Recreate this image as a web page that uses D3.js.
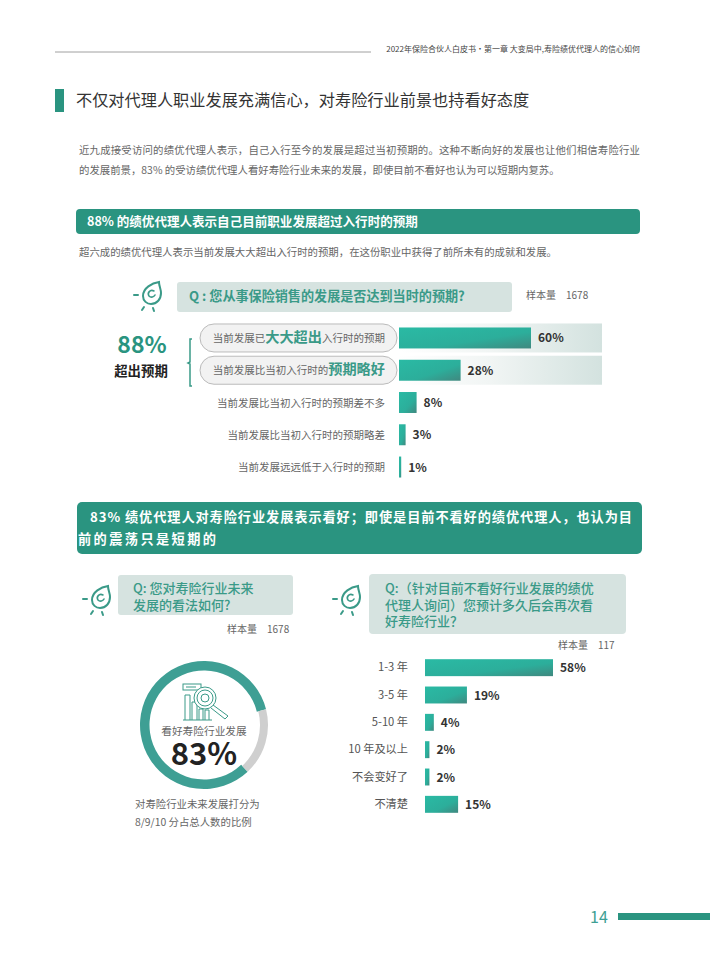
<!DOCTYPE html>
<html>
<head>
<meta charset="utf-8">
<script src="https://cdn.jsdelivr.net/npm/d3@7"></script>
<style>
  html, body { margin: 0; padding: 0; background: #fff; }
  svg { display: block; }
  text { font-family: "Noto Sans CJK SC", "Noto Sans", sans-serif; }
</style>
</head>
<body>
<div id="chart"></div>
<script>
// 预期 chart
const expectCats = ["exceed", "better", "same", "worse", "far"];
const expectVals = [60, 28, 8, 3, 1];
const expectLabels = [
  [["当前发展已", 0], ["大大超出", 1], ["入行时的预期", 0]],
  [["当前发展比当初入行时的", 0], ["预期略好", 1]],
  [["当前发展比当初入行时的预期差不多", 0]],
  [["当前发展比当初入行时的预期略差", 0]],
  [["当前发展远远低于入行时的预期", 0]]
];
// 多久后再次看好
const yearCats = ["1-3 年", "3-5 年", "5-10 年", "10 年及以上", "不会变好了", "不清楚"];
const yearVals = [58, 19, 4, 2, 2, 15];
// 行业看法
const donutVals = [83, 17];

const teal = "#2a9480";
const qTeal = "#3a9a88";
const grayText = "#666";

const svg = d3.select("#chart").append("svg").attr("width", 710).attr("height", 956);
const defs = svg.append("defs");

const barGrad = defs.append("linearGradient").attr("id", "barGrad")
  .attr("x1", "0").attr("y1", "0").attr("x2", "1").attr("y2", "1");
barGrad.append("stop").attr("offset", "0%").attr("stop-color", "#2abaa4");
barGrad.append("stop").attr("offset", "60%").attr("stop-color", "#2cae9b");
barGrad.append("stop").attr("offset", "100%").attr("stop-color", "#40887f");

const stripeGrad = defs.append("linearGradient").attr("id", "stripeGrad");
stripeGrad.append("stop").attr("offset", "0%").attr("stop-color", "#ffffff");
stripeGrad.append("stop").attr("offset", "45%").attr("stop-color", "#f1f5f4");
stripeGrad.append("stop").attr("offset", "100%").attr("stop-color", "#d3e2df");

function addText(parent, x, y, str, size, color, weight, anchor) {
  return parent.append("text").attr("x", x).attr("y", y).text(str)
    .attr("font-size", size).attr("fill", color)
    .attr("font-weight", weight || 400).attr("text-anchor", anchor || "start");
}

function bulbIcon(x, y) {
  const g = svg.append("g").attr("transform", `translate(${x},${y})`)
    .attr("fill", "none").attr("stroke", qTeal).attr("stroke-width", 2).attr("stroke-linecap", "round");
  g.append("path").attr("d", "M11 -13 C4 -12 -5 -7 -5 1 C-5 6 -1 9 3 9 C9 9 13 4 13 -2 C13 -6 11 -9 11 -13 Z");
  g.append("path").attr("d", "M6 -4 C2 -6 -1 -2 1 1 C3 3 6 2 7 0").attr("stroke-width", 1.6);
  g.append("path").attr("d", "M-14 0 L-10 0 M-4 12 L-6 15 M5 13 L6 16");
}

// 页眉
svg.append("line").attr("x1", 55).attr("x2", 371).attr("y1", 52).attr("y2", 52).attr("stroke", "#a0a0a0");
addText(svg, 640, 52, "2022年保险合伙人白皮书·第一章 大变局中,寿险绩优代理人的信心如何", 8, "#444", 400, "end");

// 标题
svg.append("rect").attr("x", 55).attr("y", 89).attr("width", 9).attr("height", 23).attr("fill", teal);
addText(svg, 76, 106, "不仅对代理人职业发展充满信心，对寿险行业前景也持看好态度", 16.2, "#333");

addText(svg, 79, 154, "近九成接受访问的绩优代理人表示，自己入行至今的发展是超过当初预期的。这种不断向好的发展也让他们相信寿险行业", 10.4, grayText)
  .attr("textLength", 561);
addText(svg, 79, 174, "的发展前景，83% 的受访绩优代理人看好寿险行业未来的发展，即使目前不看好也认为可以短期内复苏。", 10.4, grayText);

// 绿色标题条 1
svg.append("rect").attr("x", 76).attr("y", 209).attr("width", 564).attr("height", 25).attr("rx", 4).attr("fill", teal);
addText(svg, 87, 226, "88% 的绩优代理人表示自己目前职业发展超过入行时的预期", 12.55, "#fff", 700);
addText(svg, 79, 256, "超六成的绩优代理人表示当前发展大大超出入行时的预期，在这份职业中获得了前所未有的成就和发展。", 10.4, grayText);

// 问题 1
bulbIcon(148, 295);
svg.append("rect").attr("x", 177).attr("y", 282).attr("width", 335).attr("height", 30).attr("rx", 3).attr("fill", "#d6e3e0");
addText(svg, 189, 301, "Q : 您从事保险销售的发展是否达到当时的预期?", 13.1, qTeal, 700);
addText(svg, 526, 299, "样本量", 10, grayText);
addText(svg, 566, 299, "1678", 10, grayText);

addText(svg, 142, 353, "88%", 23, teal, 700, "middle");
addText(svg, 141, 376, "超出预期", 13.4, "#222", 700, "middle");
svg.append("path").attr("d", "M192 339 L190 339 L190 362 L188 363 L190 364 L190 386 L192 386")
  .attr("fill", "none").attr("stroke", qTeal).attr("stroke-width", 1.5);

const xTop = d3.scaleLinear().domain([0, 60]).range([399, 531]);
const yTop = d3.scaleBand().domain(expectCats).range([322, 483]).paddingInner(0.35).paddingOuter(0.17);

const topChart = svg.append("g");
topChart.selectAll("rect.stripe").data(expectCats.slice(0, 2)).join("rect").attr("class", "stripe")
  .attr("x", xTop(0)).attr("width", 203)
  .attr("y", (d) => yTop(d) + yTop.bandwidth() / 2 - 14.5).attr("height", 29)
  .attr("fill", "url(#stripeGrad)");
topChart.selectAll("rect.pill").data(expectCats.slice(0, 2)).join("rect").attr("class", "pill")
  .attr("x", 200).attr("width", 197)
  .attr("y", (d) => yTop(d) + yTop.bandwidth() / 2 - 14).attr("height", 28).attr("rx", 14)
  .attr("fill", "#f2f2f2").attr("stroke", "#bbb").attr("stroke-width", 1);
topChart.selectAll("rect.bar").data(expectVals).join("rect").attr("class", "bar")
  .attr("x", xTop(0)).attr("width", (d) => xTop(d) - xTop(0))
  .attr("y", (d, i) => yTop(expectCats[i])).attr("height", yTop.bandwidth())
  .attr("fill", "url(#barGrad)");
topChart.selectAll("text.val").data(expectVals).join("text").attr("class", "val")
  .attr("x", (d) => xTop(d) + 7).attr("y", (d, i) => yTop(expectCats[i]) + yTop.bandwidth() / 2 + 4.5)
  .attr("font-size", 12).attr("font-weight", 700).attr("fill", "#333").text((d) => d + "%");
topChart.selectAll("text.lab").data(expectLabels).join("text").attr("class", "lab")
  .attr("x", 385).attr("text-anchor", "end")
  .attr("y", (d, i) => yTop(expectCats[i]) + yTop.bandwidth() / 2 + 4)
  .each(function (parts) {
    d3.select(this).selectAll("tspan").data(parts).join("tspan").text((p) => p[0])
      .attr("font-size", (p) => p[1] ? 14.2 : 10.5)
      .attr("font-weight", (p) => p[1] ? 700 : 400)
      .attr("fill", (p) => p[1] ? qTeal : grayText);
  });

// 绿色标题条 2
svg.append("rect").attr("x", 77).attr("y", 502).attr("width", 565).attr("height", 52).attr("rx", 5).attr("fill", teal);
addText(svg, 90, 522, "83%  绩优代理人对寿险行业发展表示看好；即使是目前不看好的绩优代理人，也认为目", 13.2, "#fff", 700)
  .attr("textLength", 542);
addText(svg, 78, 544, "前的震荡只是短期的", 13.2, "#fff", 700)
  .attr("textLength", 138);

// 问题 2
bulbIcon(97, 599);
svg.append("rect").attr("x", 118).attr("y", 575).attr("width", 175).attr("height", 40).attr("rx", 3).attr("fill", "#d6e3e0");
addText(svg, 133, 593, "Q: 您对寿险行业未来", 13, qTeal, 500);
addText(svg, 133, 610, "发展的看法如何?", 13, qTeal, 500);
addText(svg, 227, 633, "样本量", 10, grayText);
addText(svg, 267, 633, "1678", 10, grayText);

// 环形图
const pie = d3.pie().sort(null).startAngle(137 * Math.PI / 180).endAngle((137 + 360) * Math.PI / 180);
const arc = d3.arc();
const donut = svg.append("g").attr("transform", "translate(204,725)");
donut.selectAll("path").data(pie(donutVals)).join("path")
  .attr("d", (d, i) => arc({ ...d, innerRadius: i ? 56 : 54.5, outerRadius: 64 }))
  .attr("fill", (d, i) => i ? "#cfcfcf" : "#3e9f94");

const mag = svg.append("g").attr("transform", "translate(183,684)")
  .attr("fill", "none").attr("stroke", qTeal).attr("stroke-width", 1);
mag.append("rect").attr("x", 0).attr("y", 0).attr("width", 18).attr("height", 6);
mag.append("path").attr("d", "M3 3 L13 3");
mag.append("path").attr("d", "M2 36 L2 11 L7 11 L7 36 M9 36 L9 18 L14 18 L14 36 M16 36 L16 25 L20 25 L20 36 M22 36 L22 26 L26 26 L26 36 M0 36 L29 36");
mag.append("circle").attr("cx", 22).attr("cy", 14).attr("r", 11).attr("fill", "#fff");
mag.append("circle").attr("cx", 22).attr("cy", 14).attr("r", 8);
mag.append("circle").attr("cx", 22).attr("cy", 14).attr("r", 4);
mag.append("path").attr("d", "M30 21 L45 32 L42 35 L28 24");

addText(svg, 204, 735, "看好寿险行业发展", 10.7, grayText, 400, "middle");
addText(svg, 204, 765, "83%", 31, "#222", 700, "middle");
addText(svg, 135, 808, "对寿险行业未来发展打分为", 10.4, grayText);
addText(svg, 135, 826, "8/9/10 分占总人数的比例", 10.4, grayText);

// 问题 3
bulbIcon(347, 599);
svg.append("rect").attr("x", 369).attr("y", 574).attr("width", 257).attr("height", 60).attr("rx", 4).attr("fill", "#d6e3e0");
addText(svg, 385, 593, "Q:（针对目前不看好行业发展的绩优", 13, qTeal, 500);
addText(svg, 385, 610, "代理人询问）您预计多久后会再次看", 13, qTeal, 500);
addText(svg, 385, 626, "好寿险行业？", 13, qTeal, 500);
addText(svg, 558, 649, "样本量", 10, grayText);
addText(svg, 598, 649, "117", 10, grayText);

const xYear = d3.scaleLinear().domain([0, 58]).range([425, 553]);
const yYear = d3.scaleBand().domain(yearCats).range([654, 818]).paddingInner(0.38).paddingOuter(0.19);

const yearAxis = svg.append("g").attr("transform", "translate(425,0)")
  .call(d3.axisLeft(yYear).tickSize(0).tickPadding(17));
yearAxis.select(".domain").remove();
yearAxis.selectAll("text").attr("font-size", 11.2).attr("fill", "#555")
  .style("font-family", '"Noto Sans CJK SC", sans-serif');

svg.selectAll("rect.ybar").data(yearVals).join("rect").attr("class", "ybar")
  .attr("x", xYear(0)).attr("width", (d) => xYear(d) - xYear(0))
  .attr("y", (d, i) => yYear(yearCats[i])).attr("height", yYear.bandwidth())
  .attr("fill", "url(#barGrad)");
svg.selectAll("text.yval").data(yearVals).join("text").attr("class", "yval")
  .attr("x", (d) => xYear(d) + 7).attr("y", (d, i) => yYear(yearCats[i]) + yYear.bandwidth() / 2 + 4.5)
  .attr("font-size", 12).attr("font-weight", 700).attr("fill", "#333").text((d) => d + "%");

// 页脚
addText(svg, 590, 923, "14", 16, "#3e9f94");
svg.append("rect").attr("x", 618).attr("y", 913).attr("width", 92).attr("height", 7).attr("fill", teal);
</script>
</body>
</html>
